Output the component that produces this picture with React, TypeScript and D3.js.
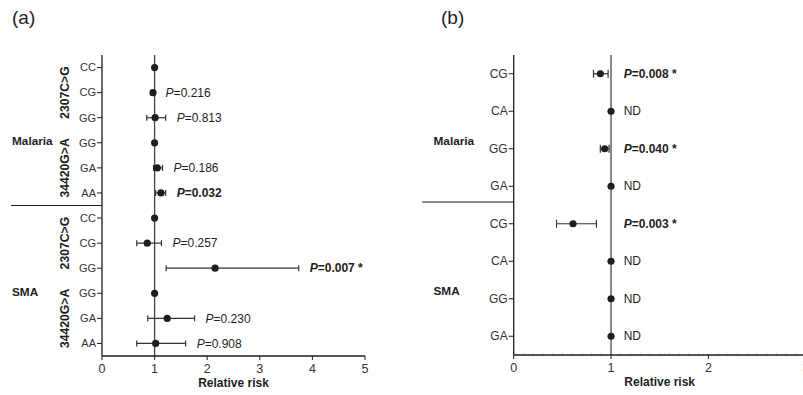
import React from 'react';
import * as d3 from 'd3';

// panel (a): two SNPs per disease group
const rowsA = ["CC", "CG", "GG", "GG", "GA", "AA", "CC", "CG", "GG", "GG", "GA", "AA"];
const rrA = [1, 0.97, 1.01, 1, 1.05, 1.12, 1, 0.86, 2.15, 1, 1.24, 1.02];
const lowA = [null, 0.93, 0.85, null, 0.98, 1.02, null, 0.66, 1.22, null, 0.87, 0.66];
const highA = [null, 1.0, 1.21, null, 1.15, 1.21, null, 1.13, 3.74, null, 1.76, 1.59];
const pA = ["", "0.216", "0.813", "", "0.186", "0.032", "", "0.257", "0.007", "", "0.230", "0.908"];
const boldA = [false, false, false, false, false, true, false, false, true, false, false, false];
const starA = [false, false, false, false, false, false, false, false, true, false, false, false];
const snpsA = ["2307C>G", "34420G>A", "2307C>G", "34420G>A"];
const ticksA = [0, 1, 2, 3, 4, 5];

// panel (b)
const rowsB = ["CG", "CA", "GG", "GA", "CG", "CA", "GG", "GA"];
const rrB = [0.89, 1, 0.935, 1, 0.61, 1, 1, 1];
const lowB = [0.82, null, 0.89, null, 0.44, null, null, null];
const highB = [0.97, null, 0.98, null, 0.85, null, null, null];
const pB = ["0.008", "ND", "0.040", "ND", "0.003", "ND", "ND", "ND"];
const ticksB = [0, 1, 2, 3];

const groups = ["Malaria", "SMA"];

const FONT = "'Liberation Sans', Arial, sans-serif";
const INK = "#1e1e1e";

const PLabel = ({ x, y, p, bold, star }) => {
  if (!p) return null;
  if (p === "ND") {
    return <text x={x} y={y} dy="0.35em" fontSize={12} fill={INK}>ND</text>;
  }
  return (
    <text x={x} y={y} dy="0.35em" fontSize={12} fill={INK} fontWeight={bold ? "bold" : "normal"}>
      <tspan fontStyle="italic">P</tspan>={p}{star ? " *" : ""}
    </text>
  );
};

const Forest = ({ rows, rr, low, high, x, y, capH, labelX, labelFor }) => (
  <g>
    {rows.map((r, i) => {
      const cy = y(i) + y.bandwidth() / 2;
      return (
        <g key={i}>
          {low[i] != null && (
            <g stroke="#333" strokeWidth={1.2}>
              <line x1={x(low[i])} x2={x(high[i])} y1={cy} y2={cy} />
              <line x1={x(low[i])} x2={x(low[i])} y1={cy - capH / 2} y2={cy + capH / 2} />
              <line x1={x(high[i])} x2={x(high[i])} y1={cy - capH / 2} y2={cy + capH / 2} />
            </g>
          )}
          <circle cx={x(rr[i])} cy={cy} r={3.6} fill={INK} />
          {labelFor(i, labelX(i), cy)}
        </g>
      );
    })}
  </g>
);

const YAxis = ({ rows, x0, y, fontSize }) => (
  <g>
    <line x1={x0} x2={x0} y1={y.range()[0]} y2={y.range()[1]} stroke={INK} strokeWidth={1.3} />
    {rows.map((r, i) => {
      const cy = y(i) + y.bandwidth() / 2;
      return (
        <g key={i}>
          <line x1={x0 - 5} x2={x0} y1={cy} y2={cy} stroke={INK} strokeWidth={1} />
          <text x={x0 - 6} y={cy} dy="0.35em" textAnchor="end" fontSize={fontSize} fill="#333">{r}</text>
        </g>
      );
    })}
  </g>
);

const XAxis = ({ x, y0, ticks, minor }) => {
  const [a, b] = x.domain();
  const minorTicks = minor ? d3.range(a, b + 1e-9, 0.1).filter(v => Math.abs(v - Math.round(v)) > 1e-6) : [];
  return (
    <g>
      {minorTicks.map((t, i) => (
        <line key={"m" + i} x1={x(t)} x2={x(t)} y1={y0 - 1.8} y2={y0} stroke="#aaa" strokeWidth={0.7} />
      ))}
      <line x1={x.range()[0]} x2={x.range()[1]} y1={y0} y2={y0} stroke={INK} strokeWidth={1.3} />
      {ticks.map(t => (
        <g key={t}>
          <line x1={x(t)} x2={x(t)} y1={y0} y2={y0 + 4} stroke={INK} strokeWidth={1} />
          <text x={x(t)} y={y0 + 17} textAnchor="middle" fontSize={12.5} fill="#333">{t}</text>
        </g>
      ))}
      <text x={(x.range()[0] + x.range()[1]) / 2} y={y0 + 31} textAnchor="middle" fontSize={12} fontWeight="bold" fill={INK}>
        Relative risk
      </text>
    </g>
  );
};

export default function App() {
  // panel (a) scales
  const xA = d3.scaleLinear().domain([0, 5]).range([102, 365]);
  const yA = d3.scaleBand<number>().domain(d3.range(rowsA.length)).range([55, 356]);
  const cA = (i: number) => yA(i)! + yA.bandwidth() / 2;

  // panel (b) scales
  const xB = d3.scaleLinear().domain([0, 3]).range([513.7, 805.7]);
  const yB = d3.scaleBand<number>().domain(d3.range(rowsB.length)).range([55, 355]);
  const cB = (i: number) => yB(i)! + yB.bandwidth() / 2;

  const sepA = yA(6)!;
  const sepB = yB(4)! - 3;

  return (
    <svg width={803} height={395} style={{ position: 'absolute', left: 0, top: 0, background: '#fff' }} fontFamily={FONT}>
      {/* panel (a) */}
      <text x={12} y={24} fontSize={19} fill={INK}>(a)</text>
      <line x1={xA(1)} x2={xA(1)} y1={55} y2={356} stroke="#444" strokeWidth={1.3} />
      <Forest
        rows={rowsA} rr={rrA} low={lowA} high={highA} x={xA} y={yA} capH={6}
        labelX={(i) => xA(highA[i] ?? rrA[i]) + 11}
        labelFor={(i, lx, cy) => <PLabel key="p" x={lx} y={cy} p={pA[i]} bold={boldA[i]} star={starA[i]} />}
      />
      <YAxis rows={rowsA} x0={102} y={yA} fontSize={11} />
      <XAxis x={xA} y0={356} ticks={ticksA} minor={false} />
      <line x1={11} x2={102} y1={sepA} y2={sepA} stroke={INK} strokeWidth={1.2} />
      {snpsA.map((s, k) => {
        const cy = (cA(k * 3) + cA(k * 3 + 2)) / 2;
        return (
          <text key={k} transform={`translate(65,${cy}) rotate(-90)`} dy="0.35em" textAnchor="middle"
            fontSize={12.2} fontWeight="bold" fill={INK}>{s}</text>
        );
      })}
      {groups.map((g, k) => (
        <text key={g} x={12} y={(cA(k * 6) + cA(k * 6 + 5)) / 2 + 11} dy="0.35em" fontSize={11.8} fontWeight="bold" fill={INK}>{g}</text>
      ))}

      {/* panel (b) */}
      <text x={441} y={24} fontSize={19} fill={INK}>(b)</text>
      <line x1={xB(1)} x2={xB(1)} y1={55} y2={355} stroke="#555" strokeWidth={1.4} />
      <Forest
        rows={rowsB} rr={rrB} low={lowB} high={highB} x={xB} y={yB} capH={8}
        labelX={() => xB(1) + 12.6}
        labelFor={(i, lx, cy) => <PLabel key="p" x={lx} y={cy} p={pB[i]} bold={true} star={true} />}
      />
      <YAxis rows={rowsB} x0={513.7} y={yB} fontSize={12} />
      <XAxis x={xB} y0={355} ticks={ticksB} minor={true} />
      <line x1={422} x2={513.7} y1={sepB} y2={sepB} stroke={INK} strokeWidth={1.2} />
      {groups.map((g, k) => (
        <text key={g} x={433.5} y={(cB(k * 4) + cB(k * 4 + 3)) / 2 + 11} dy="0.35em" fontSize={11.8} fontWeight="bold" fill={INK}>{g}</text>
      ))}
    </svg>
  );
}
